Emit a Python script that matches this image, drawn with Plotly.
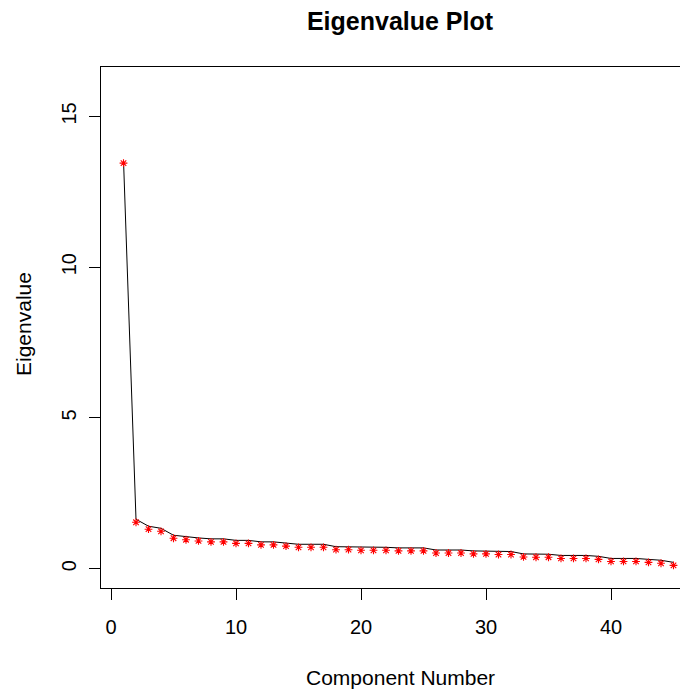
import plotly.graph_objects as go

components = list(range(1, 46))
eigenvalues = [13.55, 1.64, 1.41, 1.34, 1.11, 1.06, 1.02, 0.99, 0.99, 0.94,
               0.94, 0.89, 0.89, 0.85, 0.81, 0.81, 0.81, 0.73, 0.73, 0.71,
               0.71, 0.71, 0.69, 0.69, 0.69, 0.62, 0.62, 0.62, 0.59, 0.59,
               0.57, 0.57, 0.49, 0.48, 0.48, 0.44, 0.44, 0.44, 0.41, 0.34,
               0.34, 0.34, 0.31, 0.28, 0.21]
x_ticks = [0, 10, 20, 30, 40]
y_ticks = [0, 5, 10, 15]

FONT = "Liberation Sans, Arial, sans-serif"
# page has an 8px body margin; size figure so the plot lands where the reference has it
W, H = 680, 683
L, R, T, B = 93, 0, 59, 103

y_lo, y_hi = -0.64, 16.64
x_lo = -0.8
x_hi = x_lo + (W - L - R) / 12.5
plot_h = H - T - B
# asterisk glyph sits slightly below the vertex (as R draws pch="*")
glyph_drop = 3 * (y_hi - y_lo) / plot_h

fig = go.Figure()
fig.add_trace(go.Scatter(x=components, y=eigenvalues, mode="lines",
                         line=dict(color="black", width=1), showlegend=False,
                         hoverinfo="skip"))
fig.add_trace(go.Scatter(x=components, y=eigenvalues, mode="markers",
                         marker=dict(symbol="asterisk-open", size=6.5,
                                     line=dict(color="red", width=1.1), color="red"),
                         yaxis="y2", showlegend=False))

axis_common = dict(showgrid=False, zeroline=False, ticks="outside", ticklen=11,
                   tickwidth=1, tickcolor="black", linecolor="black", linewidth=1,
                   showline=True,
                   tickfont=dict(family=FONT, size=20, color="black"))

lab_font = dict(family=FONT, size=21, color="black")
fig.update_layout(
    width=W, height=H,
    margin=dict(l=L, r=R, t=T, b=B, pad=0),
    paper_bgcolor="white", plot_bgcolor="white",
    title=dict(text="<b>Eigenvalue Plot</b>", x=392 / W, xanchor="center",
               yref="container", y=1 - 13 / H, yanchor="middle",
               font=dict(family=FONT, size=25, color="black")),
    xaxis=dict(range=[x_lo, x_hi], tickvals=x_ticks, mirror=True,
               ticklabelstandoff=10, **axis_common),
    yaxis=dict(range=[y_lo, y_hi], tickvals=y_ticks, tickangle=-90,
               ticklabelstandoff=5, **axis_common),
    yaxis2=dict(range=[y_lo + glyph_drop, y_hi + glyph_drop], overlaying="y",
                visible=False, showgrid=False, zeroline=False),
    annotations=[
        dict(text="Component Number", xref="paper", yref="paper", x=(392 - L) / (W - L),
             y=0, yshift=-(677 - 588), xanchor="center", yanchor="middle",
             showarrow=False, font=lab_font),
        dict(text="Eigenvalue", xref="paper", yref="paper", x=0, xshift=-(101 - 23),
             y=0.5, yshift=-((324 - 8) - (T + plot_h / 2)), textangle=-90,
             xanchor="center", yanchor="middle", showarrow=False, font=lab_font),
    ],
)

fig.write_html("out.html")
